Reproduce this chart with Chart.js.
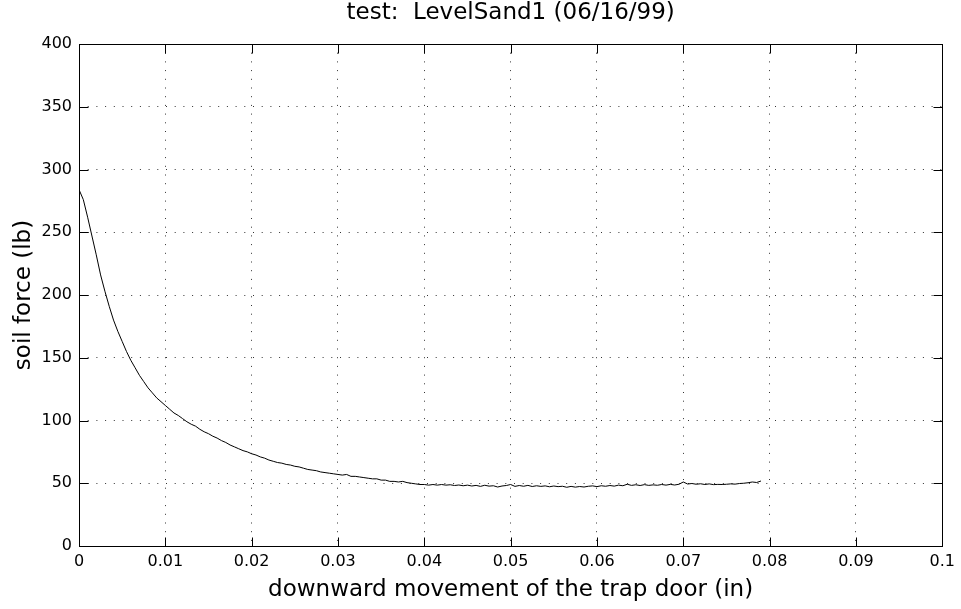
<!DOCTYPE html>
<html>
<head>
<meta charset="utf-8">
<script src="https://cdn.jsdelivr.net/npm/chart.js@4/dist/chart.umd.min.js"></script>
<style>
html, body { margin: 0; padding: 0; background: #fff; }
canvas { display: block; }
</style>
</head>
<body>
<canvas id="c" width="961" height="609"></canvas>
<script>
const chartTitle = 'test:  LevelSand1 (06/16/99)';
const xAxisTitle = 'downward movement of the trap door (in)';
const yAxisTitle = 'soil force (lb)';
const xTickLabels = ['0','0.01','0.02','0.03','0.04','0.05','0.06','0.07','0.08','0.09','0.1'];
const yTickLabels = ['0','50','100','150','200','250','300','350','400'];

const displacement = [
0.0000,0.0005,0.0010,0.0015,0.0020,0.0025,0.0030,0.0035,0.0040,0.0045,
0.0050,0.0055,0.0060,0.0065,0.0070,0.0075,0.0080,0.0085,0.0090,0.0095,
0.0100,0.0105,0.0110,0.0115,0.0120,0.0125,0.0130,0.0135,0.0140,0.0145,
0.0150,0.0155,0.0160,0.0165,0.0170,0.0175,0.0180,0.0185,0.0190,0.0195,
0.0200,0.0205,0.0210,0.0215,0.0220,0.0225,0.0230,0.0235,0.0240,0.0245,
0.0250,0.0255,0.0260,0.0265,0.0270,0.0275,0.0280,0.0285,0.0290,0.0295,
0.0300,0.0305,0.0310,0.0315,0.0320,0.0325,0.0330,0.0335,0.0340,0.0345,
0.0350,0.0355,0.0360,0.0365,0.0370,0.0375,0.0380,0.0385,0.0390,0.0395,
0.0400,0.0405,0.0410,0.0415,0.0420,0.0425,0.0430,0.0435,0.0440,0.0445,
0.0450,0.0455,0.0460,0.0465,0.0470,0.0475,0.0480,0.0485,0.0490,0.0495,
0.0500,0.0505,0.0510,0.0515,0.0520,0.0525,0.0530,0.0535,0.0540,0.0545,
0.0550,0.0555,0.0560,0.0565,0.0570,0.0575,0.0580,0.0585,0.0590,0.0595,
0.0600,0.0605,0.0610,0.0615,0.0620,0.0625,0.0630,0.0635,0.0640,0.0645,
0.0650,0.0655,0.0660,0.0665,0.0670,0.0675,0.0680,0.0685,0.0690,0.0695,
0.0700,0.0705,0.0710,0.0715,0.0720,0.0725,0.0730,0.0735,0.0740,0.0745,
0.0750,0.0755,0.0760,0.0765,0.0770,0.0775,0.0780,0.0785,0.0790
];

const soilForce = [
284,276,262,247,232,216,203,191,180,171,
163,155,148,142,136,131,126,122,118,115,
112,109,106,104,101.5,99,97,95.5,93,91,
89.5,87.5,86,84,82.5,80.5,79,77.5,76,75,
73.5,72.5,71,70,68.5,67.5,66.5,66,65,64.5,
63.5,63,62,61,60.5,60,59,58.5,58,57.5,
57,56.5,57,55.5,55.5,55,54.5,54,53.5,53.5,
52.5,52.5,51.5,51.5,51,51.5,50.5,50,49.5,49,
49,48.5,49,48.5,49,48.5,48.8,48.2,48.6,48,
48.5,47.8,48.3,47.5,48.4,47.7,48,47,47.8,48.2,
49,47.5,48.2,47.6,48.3,47.4,48,47.5,47.9,47.2,
47.8,47.3,47.6,46.8,47.5,46.9,47.4,47,47.6,47.9,
47.3,48,47.6,48.2,47.7,48.5,48,49.2,48.3,48.8,
48.2,48.9,48.3,48.7,48.4,49,48.5,49.1,48.6,49.2,
51,49.4,49.8,49.2,49.6,49,49.5,48.9,49.1,49,
49.2,49.5,49.3,49.8,50,50.4,51,50.6,51.8
];

const FONT = "'DejaVu Sans', sans-serif";

const boxAndTicks = {
  id: 'boxAndTicks',
  afterDraw(chart) {
    const ctx = chart.ctx;
    const a = chart.chartArea;
    const xs = chart.scales.x, ys = chart.scales.y;
    const L = Math.round(a.left) + 0.5, R = Math.round(a.right) + 0.5;
    const T = Math.round(a.top) + 0.5, B = Math.round(a.bottom) + 0.5;
    const len = 9;
    ctx.save();
    ctx.strokeStyle = '#000';
    ctx.lineWidth = 1;
    ctx.setLineDash([]);
    ctx.beginPath();
    xs.ticks.forEach(t => {
      const px = Math.round(xs.getPixelForValue(t.value)) + 0.5;
      ctx.moveTo(px, B); ctx.lineTo(px, B - len);
      ctx.moveTo(px, T); ctx.lineTo(px, T + len);
    });
    ys.ticks.forEach(t => {
      const py = Math.round(ys.getPixelForValue(t.value)) + 0.5;
      ctx.moveTo(L, py); ctx.lineTo(L + len, py);
      ctx.moveTo(R, py); ctx.lineTo(R - len, py);
    });
    ctx.stroke();
    ctx.strokeRect(L, T, R - L, B - T);
    // chart title, centred over the plot area
    ctx.fillStyle = '#000';
    ctx.font = "23px " + FONT;
    ctx.textAlign = 'center';
    ctx.textBaseline = 'middle';
    ctx.fillText(chartTitle, (a.left + a.right) / 2, 13);
    ctx.restore();
  }
};

const points = displacement.map((x, i) => ({ x: x, y: soilForce[i] }));

new Chart(document.getElementById('c'), {
  type: 'line',
  data: {
    datasets: [{
      data: points,
      borderColor: '#000',
      borderWidth: 1,
      pointRadius: 0,
      tension: 0,
      fill: false
    }]
  },
  options: {
    responsive: false,
    animation: false,
    layout: { padding: { left: 0, right: 18, top: 44, bottom: 0 } },
    plugins: {
      legend: { display: false },
      tooltip: { enabled: false },
      title: { display: false }
    },
    scales: {
      x: {
        type: 'linear',
        min: 0, max: 0.1,
        afterFit(s) { s.height = 63; },
        ticks: {
          stepSize: 0.01,
          color: '#000',
          padding: 6,
          maxRotation: 0,
          autoSkip: false,
          font: { family: FONT, size: 16 },
          callback: (v) => xTickLabels[Math.round(v / 0.01)]
        },
        grid: { color: '#333', lineWidth: 1, drawTicks: false },
        border: { display: false, dash: [1, 7.7] },
        title: {
          display: true,
          text: xAxisTitle,
          color: '#000',
          font: { family: FONT, size: 23, lineHeight: 1.2 },
          padding: { top: 0, bottom: 5 }
        }
      },
      y: {
        type: 'linear',
        min: 0, max: 400,
        afterFit(s) { s.width = 79; },
        ticks: {
          stepSize: 50,
          color: '#000',
          padding: 7,
          autoSkip: false,
          font: { family: FONT, size: 16 },
          callback: (v) => yTickLabels[Math.round(v / 50)]
        },
        grid: { color: '#333', lineWidth: 1, drawTicks: false },
        border: { display: false, dash: [1, 7.7] },
        title: {
          display: true,
          text: yAxisTitle,
          color: '#000',
          font: { family: FONT, size: 23, lineHeight: 1.2 },
          padding: { top: 10, bottom: 0 }
        }
      }
    }
  },
  plugins: [boxAndTicks]
});
</script>
</body>
</html>
